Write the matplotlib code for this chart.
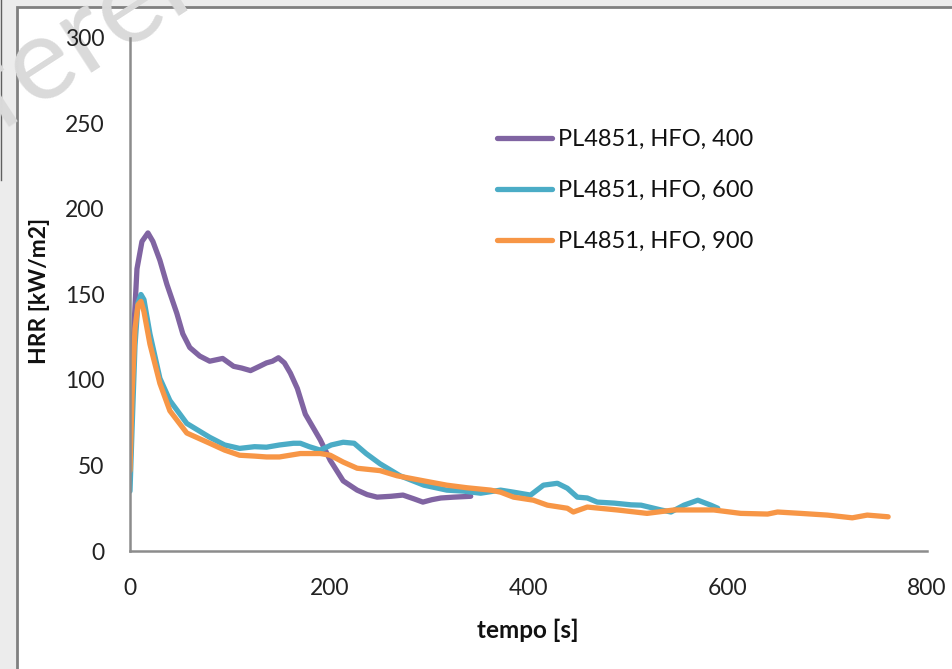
import matplotlib
matplotlib.use("Agg")
import matplotlib.pyplot as plt
from matplotlib.patches import Rectangle
from matplotlib.lines import Line2D

# ---------------- data ----------------
t_400 = [0, 3, 7, 12, 18, 23, 30, 37, 47, 53, 60, 70, 80, 93, 104, 112, 121, 130, 137, 143, 149, 155,
         161, 168, 176, 184, 191, 201, 214, 228, 238, 248, 262, 274, 285, 294, 303, 312, 325, 342]
hrr_400 = [45, 120, 165, 181, 186, 181, 170, 156, 139, 127, 119, 114, 111, 112.6, 108, 107, 105.5, 108, 110,
           111, 113, 110, 104, 95, 80, 72, 65, 53, 41, 35.6, 33, 31.5, 32, 32.7, 30.5, 28.6, 30, 31, 31.5, 32]

t_600 = [0, 2, 5, 8, 11, 14, 20, 30, 40, 57, 80, 95, 110, 125, 137, 150, 164, 171, 180, 191, 202, 214,
         225, 237, 251, 271, 295, 318, 335, 352, 372, 385, 402, 415, 429, 439, 449, 459, 469, 486, 503,
         513, 533, 543, 556, 570, 583, 590]
hrr_600 = [35, 70, 120, 145, 150, 147, 127, 101, 88, 74.6, 66.5, 62, 60, 61, 60.7, 62, 63, 63, 61, 59, 62, 63.6,
           63, 57, 51, 44, 38.5, 35.6, 35, 33.8, 35.6, 34.4, 32.7, 38.5, 39.6, 36.7, 31.5, 31, 28.6, 28, 27,
           26.8, 24, 22.8, 26.8, 29.7, 26.8, 25]

t_900 = [0, 2, 5, 8, 11, 14, 20, 30, 40, 57, 80, 95, 110, 125, 137, 150, 171, 191, 201, 214, 228, 251,
         268, 295, 318, 338, 362, 372, 385, 405, 419, 439, 445, 459, 489, 519, 546, 586, 613, 640, 650,
         673, 700, 725, 740, 761]
hrr_900 = [47, 90, 130, 144, 146, 140, 121, 98, 82, 69, 63, 59, 56, 55.5, 55, 55, 57, 57, 56, 52, 48.4, 47,
           44, 41, 38.5, 37, 35.6, 34.4, 31.5, 29.7, 26.8, 25, 22.8, 25.7, 24, 22, 24, 24, 22, 21.6, 22.8,
           22, 21, 19.4, 21, 20]

labels = ["PL4851, HFO, 400", "PL4851, HFO, 600", "PL4851, HFO, 900"]
colors = ["#8064A2", "#4BACC6", "#F79646"]
x_ticks = [0, 200, 400, 600, 800]
y_ticks = [0, 50, 100, 150, 200, 250, 300]
x_label = "tempo [s]"
y_label = "HRR [kW/m2]"

# ---------------- figure ----------------
W, H = 953, 669
plt.rcParams['font.family'] = ['Lato', 'DejaVu Sans']
fig = plt.figure(figsize=(W / 100, H / 100), dpi=100, facecolor="#ececec")

def fx(px):
    return px / W

def fy(py):
    return 1 - py / H

# white chart panel with grey border
panel = Rectangle((fx(17), -0.01), 1 - fx(17) + 0.02, fy(7) + 0.01, transform=fig.transFigure,
                  facecolor="white", edgecolor="#808080", linewidth=2, zorder=-2)
fig.patches.append(panel)
fig.add_artist(Line2D([fx(1), fx(1)], [fy(0), fy(180)], color="#606060", lw=1, zorder=-1))

# watermark
fig.text(fx(-115), fy(200), "Reference", fontsize=84, color="#dadada", rotation=33,
         rotation_mode="anchor", ha="left", va="baseline", zorder=-1)

ax = fig.add_axes([fx(130), fy(551), fx(927) - fx(130), fy(38) - fy(551)])
ax.set_facecolor("none")
ax.set_zorder(2)

series = [(t_400, hrr_400), (t_600, hrr_600), (t_900, hrr_900)]
handles = []
for (t, v), c, lab in zip(series, colors, labels):
    h, = ax.plot(t, v, color=c, lw=3.8, solid_capstyle="round", solid_joinstyle="round", label=lab)
    handles.append(h)

ax.set_xlim(0, 800)
ax.set_ylim(0, 300)
ax.set_xticks(x_ticks)
ax.set_yticks(y_ticks)
ax.tick_params(length=0, labelsize=16.5, colors="#222222")
ax.tick_params(axis="y", pad=18.5)
ax.tick_params(axis="x", pad=19.5)
for s in ["top", "right"]:
    ax.spines[s].set_visible(False)
for s in ["left", "bottom"]:
    ax.spines[s].set_color("#8c8c8c")
    ax.spines[s].set_linewidth(1.8)

fig.text(fx(528), fy(630), x_label, fontsize=17.5, fontweight="bold", ha="center", va="center", color="#111111")
fig.text(fx(40), fy(291), y_label, fontsize=16.5, fontweight="bold", ha="center", va="center",
         rotation=90, color="#111111")

leg = ax.legend(handles=handles, loc="upper left", bbox_to_anchor=(fx(497), fy(129)),
                bbox_transform=fig.transFigure, frameon=False, fontsize=17,
                handlelength=2.35, handletextpad=0.22, labelspacing=1.27, borderpad=0, borderaxespad=0)
for t in leg.get_texts():
    t.set_color("#111111")

fig.savefig("out.png", dpi=100, facecolor=fig.get_facecolor())
